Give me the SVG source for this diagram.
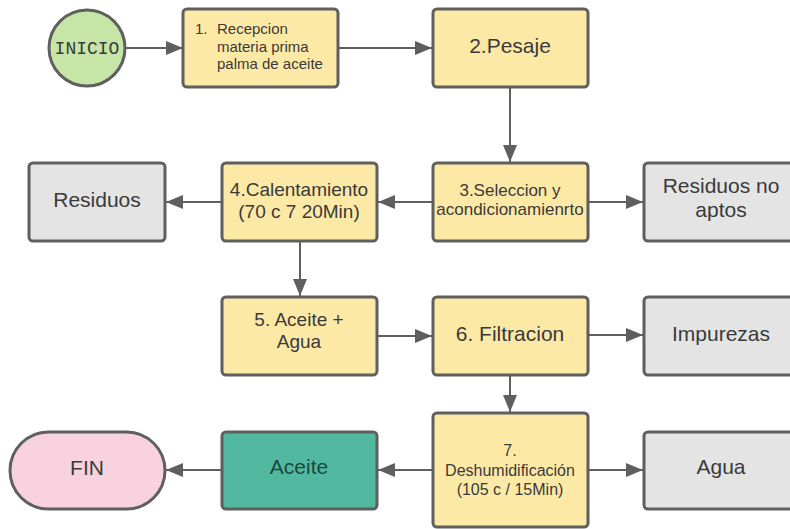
<svg xmlns="http://www.w3.org/2000/svg" width="790" height="529" viewBox="0 0 790 529">
<defs>
<style>
.box{stroke:#5f5f5f;stroke-width:3;}
.y{fill:#fde9a6;}
.g{fill:#e4e4e4;}
.t{font-family:"Liberation Sans",Arial,sans-serif;fill:#3a3a3a;text-anchor:middle;}
.c{stroke:#5f5f5f;stroke-width:2;fill:none;marker-end:url(#ah);}
</style>
<marker id="ah" markerUnits="userSpaceOnUse" markerWidth="18" markerHeight="14" refX="17" refY="7" orient="auto">
<path d="M0,0 L17,7 L0,14 Z" fill="#5f5f5f"/>
</marker>
</defs>
<rect width="790" height="529" fill="#fff"/>
<g id="connectors">
<line class="c" x1="126" y1="48" x2="183" y2="48"/>
<line class="c" x1="338" y1="48" x2="432" y2="48"/>
<line class="c" x1="510" y1="87" x2="510" y2="162"/>
<line class="c" x1="433" y1="202" x2="378" y2="202"/>
<line class="c" x1="588" y1="202" x2="643" y2="202"/>
<line class="c" x1="222" y1="202" x2="166" y2="202"/>
<line class="c" x1="300" y1="241" x2="300" y2="296"/>
<line class="c" x1="377" y1="336" x2="432" y2="336"/>
<line class="c" x1="588" y1="335" x2="643" y2="335"/>
<line class="c" x1="510" y1="375" x2="510" y2="412"/>
<line class="c" x1="433" y1="470" x2="378" y2="470"/>
<line class="c" x1="588" y1="470" x2="643" y2="470"/>
<line class="c" x1="222" y1="470" x2="166" y2="470"/>
</g>
<g id="inicio">
<circle cx="87" cy="48" r="38" fill="#c5e6a6" stroke="#5f5f5f" stroke-width="3"/>
<text x="87" y="54" font-family="'Liberation Mono','DejaVu Sans Mono',monospace" font-size="18" fill="#3a3a3a" text-anchor="middle">INICIO</text>
</g>
<g id="n1">
<rect class="box y" x="183" y="9" width="155" height="78" rx="4"/>
<text font-family="'Liberation Sans',Arial,sans-serif" font-size="15" fill="#3a3a3a"><tspan x="195" y="34">1.</tspan><tspan x="217" y="34">Recepcion</tspan><tspan x="217" y="52">materia prima</tspan><tspan x="217" y="69">palma de aceite</tspan></text>
</g>
<g id="n2">
<rect class="box y" x="433" y="9" width="155" height="78" rx="4"/>
<text class="t" x="510" y="53" font-size="21">2.Pesaje</text>
</g>
<g id="n3">
<rect class="box y" x="433" y="163" width="155" height="78" rx="4"/>
<text class="t" font-size="17"><tspan x="510" y="196">3.Seleccion y</tspan><tspan x="510" y="215">acondicionamienrto</tspan></text>
</g>
<g id="residuosno">
<rect class="box g" x="644" y="163" width="160" height="78" rx="4"/>
<text class="t" font-size="21"><tspan x="721" y="193">Residuos no</tspan><tspan x="721" y="217">aptos</tspan></text>
</g>
<g id="n4">
<rect class="box y" x="222" y="163" width="155" height="78" rx="4"/>
<text class="t" font-size="19"><tspan x="299" y="196">4.Calentamiento</tspan><tspan x="299" y="218">(70 c 7 20Min)</tspan></text>
</g>
<g id="residuos">
<rect class="box g" x="29" y="163" width="136" height="78" rx="4"/>
<text class="t" x="97" y="207" font-size="21">Residuos</text>
</g>
<g id="n5">
<rect class="box y" x="222" y="297" width="155" height="78" rx="4"/>
<text class="t" font-size="19"><tspan x="299" y="326">5. Aceite +</tspan><tspan x="299" y="348">Agua</tspan></text>
</g>
<g id="n6">
<rect class="box y" x="433" y="297" width="155" height="78" rx="4"/>
<text class="t" x="510" y="341" font-size="21">6. Filtracion</text>
</g>
<g id="impurezas">
<rect class="box g" x="644" y="297" width="160" height="78" rx="4"/>
<text class="t" x="721" y="341" font-size="21">Impurezas</text>
</g>
<g id="n7">
<rect class="box y" x="433" y="413" width="155" height="114" rx="4"/>
<text class="t" font-size="16"><tspan x="510" y="456">7.</tspan><tspan x="510" y="476">Deshumidificación</tspan><tspan x="510" y="495">(105 c / 15Min)</tspan></text>
</g>
<g id="agua">
<rect class="box g" x="644" y="432" width="160" height="77" rx="4"/>
<text class="t" x="721" y="474" font-size="21">Agua</text>
</g>
<g id="aceite">
<rect class="box" x="222" y="432" width="155" height="77" rx="4" fill="#52b8a0"/>
<text class="t" x="299" y="474" font-size="21" style="fill:#1f4740">Aceite</text>
</g>
<g id="fin">
<rect class="box" x="10" y="432" width="155" height="77" rx="38.5" fill="#f8d3df"/>
<text class="t" x="87" y="475" font-size="21">FIN</text>
</g>
</svg>
